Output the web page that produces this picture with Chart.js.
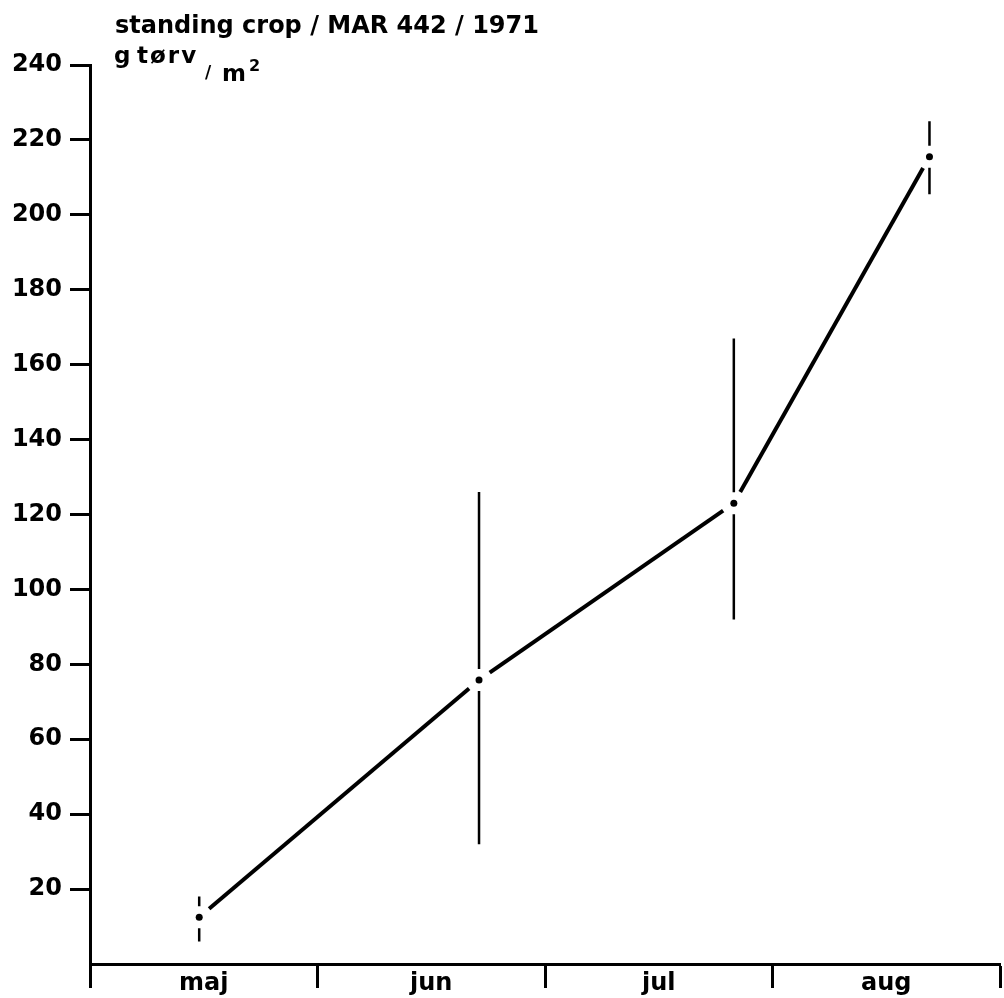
<!DOCTYPE html>
<html lang="da">
<head>
  <meta charset="UTF-8" />
  <title>standing crop / MAR 442 / 1971</title>
  <script src="https://cdn.jsdelivr.net/npm/chart.js"></script>
  <style>
    html, body { margin: 0; padding: 0; background: #fff; }
    #wrap { width: 1004px; height: 998px; position: relative; }
  </style>
</head>
<body>
  <div id="wrap"><canvas id="crop"></canvas></div>

  <script>
    // month labels, sampling dates (in months from 1 May) and g dry weight / m2
    const months = ['maj', 'jun', 'jul', 'aug'];
    const sampleMonth = [0.48, 1.71, 2.83, 3.69];
    const standingCrop = [12.5, 75.8, 123, 215.5];
    const rangeLow = [6, 32, 92, 205.5];
    const rangeHigh = [18, 126, 167, 225];
    const yMax = 240;
    const yStep = 20;

    const FONT = "'DejaVu Sans', sans-serif";

    // connecting line and range bars, both broken open around each sample dot
    const rangePlot = {
      id: 'rangePlot',
      afterDatasetsDraw(chart) {
        const { ctx, scales: { x, y } } = chart;
        const pts = sampleMonth.map((m, i) => [x.getPixelForValue(m), y.getPixelForValue(standingCrop[i])]);
        ctx.save();
        ctx.strokeStyle = '#000';
        ctx.lineCap = 'butt';

        // line segments
        const lineGap = 13;
        ctx.lineWidth = 4;
        for (let i = 0; i < pts.length - 1; i++) {
          const [x0, y0] = pts[i], [x1, y1] = pts[i + 1];
          const len = Math.hypot(x1 - x0, y1 - y0);
          const ux = (x1 - x0) / len, uy = (y1 - y0) / len;
          ctx.beginPath();
          ctx.moveTo(x0 + ux * lineGap, y0 + uy * lineGap);
          ctx.lineTo(x1 - ux * lineGap, y1 - uy * lineGap);
          ctx.stroke();
        }

        // vertical range bars
        const barGap = 11;
        ctx.lineWidth = 2.5;
        pts.forEach(([px, py], i) => {
          const top = y.getPixelForValue(rangeHigh[i]);
          const bot = y.getPixelForValue(rangeLow[i]);
          ctx.beginPath();
          ctx.moveTo(px, top);
          ctx.lineTo(px, py - barGap);
          ctx.moveTo(px, py + barGap);
          ctx.lineTo(px, bot);
          ctx.stroke();
        });
        ctx.restore();
      }
    };

    // heading and unit, written like the original (unit as a small fraction)
    const heading = {
      id: 'heading',
      afterDraw(chart) {
        const { ctx } = chart;
        ctx.save();
        ctx.fillStyle = '#000';
        ctx.textBaseline = 'alphabetic';
        ctx.textAlign = 'left';
        ctx.font = 'bold 24px ' + FONT;
        ctx.fillText('standing crop / MAR 442 / 1971', 115, 33);
        ctx.font = 'bold 23px ' + FONT;
        ctx.fillText('g', 114, 63);
        ctx.letterSpacing = '2px';
        ctx.fillText('tørv', 137, 63);
        ctx.letterSpacing = '0px';
        ctx.font = 'bold 17px ' + FONT;
        ctx.fillText('/', 205, 78);
        ctx.font = 'bold 23px ' + FONT;
        ctx.fillText('m', 222, 81);
        ctx.font = 'bold 16px ' + FONT;
        ctx.fillText('2', 249, 71);
        ctx.restore();
      }
    };

    new Chart(document.getElementById('crop'), {
      type: 'scatter',
      data: {
        datasets: [{
          data: sampleMonth.map((m, i) => ({ x: m, y: standingCrop[i] })),
          showLine: false,
          pointRadius: 3.5,
          pointBackgroundColor: '#000',
          pointBorderWidth: 0
        }]
      },
      options: {
        responsive: true,
        maintainAspectRatio: false,
        animation: false,
        layout: { padding: { top: 65, right: 4, left: 0, bottom: 0 } },
        plugins: {
          legend: { display: false },
          tooltip: { enabled: false },
          title: { display: false }
        },
        scales: {
          x: {
            type: 'linear',
            min: 0,
            max: months.length,
            afterBuildTicks(scale) {
              const t = [];
              for (let i = 0; i <= months.length * 2; i++) t.push({ value: i / 2 });
              scale.ticks = t;
            },
            afterFit(scale) { scale.height = 34; },
            border: { display: true, color: '#000', width: 3 },
            grid: {
              drawOnChartArea: false,
              tickLength: 24,
              tickWidth: 3,
              tickColor: c => Number.isInteger(c.tick.value) ? '#000' : 'rgba(0,0,0,0)'
            },
            ticks: {
              autoSkip: false,
              maxRotation: 0,
              minRotation: 0,
              padding: -16,
              color: '#000',
              font: { family: FONT, size: 24, weight: 'bold', lineHeight: 1 },
              callback: v => Number.isInteger(v) ? '' : months[Math.floor(v)]
            }
          },
          y: {
            min: 0,
            max: yMax,
            afterFit(scale) { scale.width = 90; },
            border: { display: true, color: '#000', width: 3 },
            grid: {
              drawOnChartArea: false,
              tickLength: 20,
              tickWidth: 3,
              tickColor: c => c.tick.value === 0 ? 'rgba(0,0,0,0)' : '#000'
            },
            ticks: {
              stepSize: yStep,
              padding: 8,
              color: '#000',
              font: { family: FONT, size: 24, weight: 'bold' },
              callback: v => v === 0 ? '' : v
            }
          }
        }
      },
      plugins: [rangePlot, heading]
    });
  </script>
</body>
</html>
